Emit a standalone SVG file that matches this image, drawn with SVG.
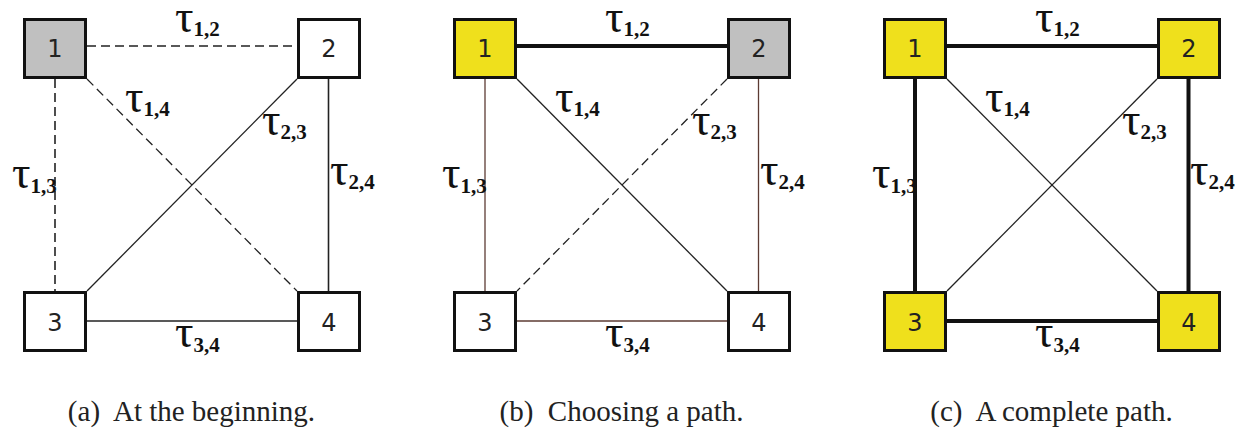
<svg xmlns="http://www.w3.org/2000/svg" width="1247" height="433" viewBox="0 0 1247 433">
<style>
.node rect{stroke:#111;stroke-width:3}
.white{fill:#fff}
.gray{fill:#c0c0c0}
.yellow{fill:#efe01c}
.num{font-family:"DejaVu Sans",sans-serif;font-size:24px;fill:#222;text-anchor:middle}
.e{fill:none;stroke:#222;stroke-width:1.3}
.side{stroke-width:1.6}
.dash{stroke-dasharray:9 5}
.thick{stroke:#111;stroke-width:4}
.br{stroke:#5c3b33}
.tau{font-family:"Liberation Serif",serif;font-size:46px;fill:#111}
.sub{font-size:21px;font-weight:bold}
.cap{font-family:"Liberation Serif",serif;font-size:29px;fill:#222;text-anchor:middle;white-space:pre}
</style>
<rect width="1247" height="433" fill="#fff"/>

<!-- Panel (a) -->
<g id="panel-a">
  <g id="a-connectors">
    <path class="e side dash" d="M87 46H297"/>
    <path class="e side dash" d="M55 79V291"/>
    <path class="e dash" d="M87 79L297 291"/>
    <path class="e" d="M297 79L87 291"/>
    <path class="e side" d="M328.5 79V291"/>
    <path class="e side" d="M87 321H297"/>
  </g>
  <g id="a-labels">
    <text class="tau" x="175" y="32">τ<tspan class="sub" y="36">1,2</tspan></text>
    <text class="tau" x="125" y="112">τ<tspan class="sub" y="116">1,4</tspan></text>
    <text class="tau" x="262" y="135">τ<tspan class="sub" y="139">2,3</tspan></text>
    <text class="tau" x="12" y="188">τ<tspan class="sub" y="193">1,3</tspan></text>
    <text class="tau" x="330" y="185">τ<tspan class="sub" y="189">2,4</tspan></text>
    <text class="tau" x="175" y="347">τ<tspan class="sub" y="352">3,4</tspan></text>
  </g>
  <g id="a-node1" class="node"><rect class="gray" x="24.5" y="19.5" width="61" height="58"/><text class="num" x="55" y="57">1</text></g>
  <g id="a-node2" class="node"><rect class="white" x="298.5" y="19.5" width="61" height="58"/><text class="num" x="329" y="57">2</text></g>
  <g id="a-node3" class="node"><rect class="white" x="24.5" y="292.5" width="61" height="58"/><text class="num" x="55" y="331">3</text></g>
  <g id="a-node4" class="node"><rect class="white" x="298.5" y="292.5" width="61" height="58"/><text class="num" x="329" y="331">4</text></g>
  <text class="cap" x="191.5" y="421">(a)  At the beginning.</text>
</g>

<!-- Panel (b) -->
<g id="panel-b" transform="translate(430,0)">
  <g id="b-connectors">
    <path class="e thick" d="M87 46H297"/>
    <path class="e br" d="M55 79V291"/>
    <path class="e" d="M87 79L297 291"/>
    <path class="e dash" d="M297 79L87 291"/>
    <path class="e br" d="M328.5 79V291"/>
    <path class="e br" d="M87 321H297"/>
  </g>
  <g id="b-labels">
    <text class="tau" x="175" y="32">τ<tspan class="sub" y="36">1,2</tspan></text>
    <text class="tau" x="125" y="112">τ<tspan class="sub" y="116">1,4</tspan></text>
    <text class="tau" x="262" y="135">τ<tspan class="sub" y="139">2,3</tspan></text>
    <text class="tau" x="12" y="188">τ<tspan class="sub" y="193">1,3</tspan></text>
    <text class="tau" x="330" y="185">τ<tspan class="sub" y="189">2,4</tspan></text>
    <text class="tau" x="175" y="347">τ<tspan class="sub" y="352">3,4</tspan></text>
  </g>
  <g id="b-node1" class="node"><rect class="yellow" x="24.5" y="19.5" width="61" height="58"/><text class="num" x="55" y="57">1</text></g>
  <g id="b-node2" class="node"><rect class="gray" x="298.5" y="19.5" width="61" height="58"/><text class="num" x="329" y="57">2</text></g>
  <g id="b-node3" class="node"><rect class="white" x="24.5" y="292.5" width="61" height="58"/><text class="num" x="55" y="331">3</text></g>
  <g id="b-node4" class="node"><rect class="white" x="298.5" y="292.5" width="61" height="58"/><text class="num" x="329" y="331">4</text></g>
  <text class="cap" x="191.5" y="421">(b)  Choosing a path.</text>
</g>

<!-- Panel (c) -->
<g id="panel-c" transform="translate(860,0)">
  <g id="c-connectors">
    <path class="e thick" d="M87 46H297"/>
    <path class="e thick" d="M55 79V291"/>
    <path class="e" d="M87 79L297 291"/>
    <path class="e" d="M297 79L87 291"/>
    <path class="e thick" d="M328.5 79V291"/>
    <path class="e thick" d="M87 321H297"/>
  </g>
  <g id="c-labels">
    <text class="tau" x="175" y="32">τ<tspan class="sub" y="36">1,2</tspan></text>
    <text class="tau" x="125" y="112">τ<tspan class="sub" y="116">1,4</tspan></text>
    <text class="tau" x="262" y="135">τ<tspan class="sub" y="139">2,3</tspan></text>
    <text class="tau" x="12" y="188">τ<tspan class="sub" y="193">1,3</tspan></text>
    <text class="tau" x="330" y="185">τ<tspan class="sub" y="189">2,4</tspan></text>
    <text class="tau" x="175" y="347">τ<tspan class="sub" y="352">3,4</tspan></text>
  </g>
  <g id="c-node1" class="node"><rect class="yellow" x="24.5" y="19.5" width="61" height="58"/><text class="num" x="55" y="57">1</text></g>
  <g id="c-node2" class="node"><rect class="yellow" x="298.5" y="19.5" width="61" height="58"/><text class="num" x="329" y="57">2</text></g>
  <g id="c-node3" class="node"><rect class="yellow" x="24.5" y="292.5" width="61" height="58"/><text class="num" x="55" y="331">3</text></g>
  <g id="c-node4" class="node"><rect class="yellow" x="298.5" y="292.5" width="61" height="58"/><text class="num" x="329" y="331">4</text></g>
  <text class="cap" x="191.5" y="421">(c)  A complete path.</text>
</g>
</svg>
